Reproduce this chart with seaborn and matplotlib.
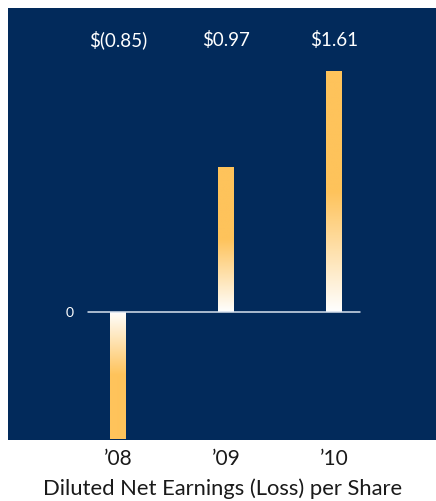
import numpy as np
import pandas as pd
import matplotlib
matplotlib.use("Agg")
import matplotlib.pyplot as plt
import seaborn as sns
from matplotlib.colors import LinearSegmentedColormap

years = ["\u201908", "\u201909", "\u201910"]
eps = [-0.85, 0.97, 1.61]
value_labels = ["$(0.85)", "$0.97", "$1.61"]
title = "Diluted Net Earnings (Loss) per Share"

NAVY = "#022A5B"
ORANGE = "#FEC35B"

sns.set_theme(style="white")
plt.rcParams["font.family"] = ["Lato", "DejaVu Sans"]

fig = plt.figure(figsize=(4.36, 5.02), dpi=100)
fig.patch.set_facecolor("white")
ax = fig.add_axes([8 / 436, 61 / 502, 428 / 436, 432 / 502])

df = pd.DataFrame({"year": years, "eps": eps})
sns.barplot(data=df, x="year", y="eps", ax=ax, width=0.148, color=ORANGE,
            saturation=1, errorbar=None, linewidth=0)
ax.set_facecolor(NAVY)

cmap = LinearSegmentedColormap.from_list("g", ["#FFFFFF", ORANGE])
for p, v in zip(list(ax.patches), eps):
    x0 = p.get_x()
    w = p.get_width()
    n = 256
    ys = np.linspace(0, v, n)
    t = np.clip(np.abs(ys) / (0.5 * abs(v)), 0, 1).reshape(-1, 1)
    im = ax.imshow(t, cmap=cmap, vmin=0, vmax=1, extent=[x0, x0 + w, 0, v],
                   origin="lower", aspect="auto", zorder=3, interpolation="bilinear")
    im.set_clip_path(p)

ax.set_xlim(-1.0185, 2.944)
ax.set_ylim(-0.855, 2.031)

ax.axhline(0, xmin=80 / 428, xmax=352 / 428, color="#D8E1EE", lw=1.1, zorder=4)
ax.text(-0.444, 0, "0", color="white", ha="center", va="center", fontsize=10)

for i, lab in enumerate(value_labels):
    ax.text(i, 1.824, lab, color="white", ha="center", va="center", fontsize=13.5)

for s in ax.spines.values():
    s.set_visible(False)
ax.set_yticks([])
ax.set_xlabel("")
ax.set_ylabel("")
ax.tick_params(axis="x", length=0, pad=6, labelsize=15, colors="#1a1a1a")

fig.text(223 / 436, 1 - 489 / 502, title, ha="center", va="center",
         fontsize=15.8, color="#1a1a1a")

fig.savefig("out.png", dpi=100)
